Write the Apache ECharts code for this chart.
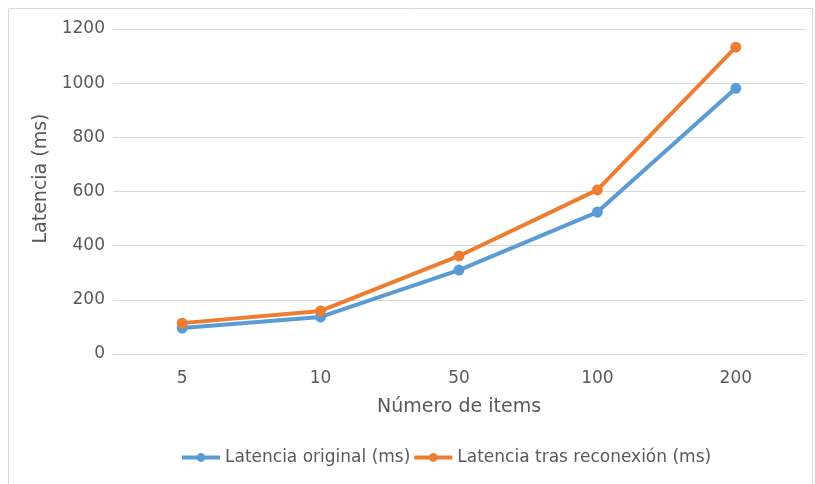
<!DOCTYPE html>
<html>
<head>
<meta charset="utf-8">
<script src="https://cdn.jsdelivr.net/npm/echarts@6/dist/echarts.min.js"></script>
<style>
html, body { margin: 0; padding: 0; background: #fff; }
#chart { width: 815px; height: 484px; }
</style>
</head>
<body>
<div id="chart"></div>
<script>
// Item counts on the x axis
const categories = ['5', '10', '50', '100', '200'];
// Latency measurements in milliseconds
const latenciaOriginal = [96, 137, 310, 524, 981];
const latenciaReconexion = [114, 159, 362, 606, 1133];
const seriesNames = ['Latencia original (ms)', 'Latencia tras reconexión (ms)'];

const font = 'DejaVu Sans';
const textColor = '#595959';

const chart = echarts.init(document.getElementById('chart'));
chart.setOption({
  animation: false,
  backgroundColor: '#fff',
  textStyle: { fontFamily: font },
  graphic: [{
    type: 'rect',
    shape: { x: 8.5, y: 8.5, width: 804, height: 490 },
    style: { fill: 'none', stroke: '#d9d9d9', lineWidth: 1 },
    silent: true
  }],
  grid: { left: 113, right: 10, top: 29, bottom: 130, containLabel: false },
  legend: {
    bottom: 13,
    left: 175,
    itemGap: 2,
    itemWidth: 38,
    itemHeight: 11,
    lineStyle: { width: 4 },
    textStyle: { color: textColor, fontSize: 17, fontFamily: font },
    data: seriesNames
  },
  xAxis: {
    type: 'category',
    data: categories,
    name: 'Número de items',
    nameLocation: 'middle',
    nameGap: 44,
    nameTextStyle: { color: textColor, fontSize: 19, fontFamily: font },
    axisLine: { lineStyle: { color: '#d9d9d9', width: 1 } },
    axisTick: { show: false },
    axisLabel: { color: textColor, fontSize: 17, margin: 16, fontFamily: font }
  },
  yAxis: {
    type: 'value',
    min: 0,
    max: 1200,
    interval: 200,
    name: 'Latencia (ms)',
    nameLocation: 'middle',
    nameGap: 44,
    nameTextStyle: { color: textColor, fontSize: 19, fontFamily: font, padding: [0, 0, 0, 26] },
    axisLine: { show: false },
    axisTick: { show: false },
    axisLabel: {
      color: textColor, fontSize: 17, margin: 8, fontFamily: font,
      formatter: (v) => String(v)
    },
    splitLine: { lineStyle: { color: '#d9d9d9', width: 1 } }
  },
  series: [
    {
      name: seriesNames[0],
      type: 'line',
      data: latenciaOriginal,
      symbol: 'circle',
      symbolSize: 11,
      lineStyle: { color: '#5b9bd5', width: 4 },
      itemStyle: { color: '#5b9bd5' }
    },
    {
      name: seriesNames[1],
      type: 'line',
      data: latenciaReconexion,
      symbol: 'circle',
      symbolSize: 11,
      lineStyle: { color: '#ed7d31', width: 4 },
      itemStyle: { color: '#ed7d31' }
    }
  ]
});
</script>
</body>
</html>
